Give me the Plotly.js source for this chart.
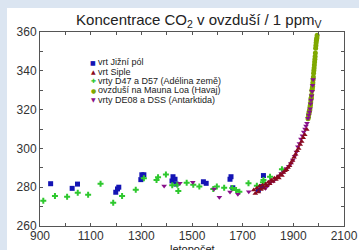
<!DOCTYPE html>
<html><head><meta charset="utf-8">
<script src="https://cdn.plot.ly/plotly-3.0.1.min.js"></script>
<style>
html,body{margin:0;padding:0;background:#dbe5f1;width:359px;height:250px;overflow:hidden}
#chart{position:absolute;left:7px;top:8px;width:352px;height:242px;background:#fff}
</style></head><body>
<div id="chart"></div>
<script>
// vrt Jižní pól (South Pole)
const spYears = [942,1027,1048,1199,1206,1211,1298,1302,1310,1421,1425,1433,1437,1545,1556,1650,1654,1661,1762,1776,1782];
const spPpm   = [281.8,279.4,281.6,277.4,279.1,280.0,283.9,286.4,286.4,283.2,285.4,284.1,281.6,282.8,282.0,284.1,285.4,279.7,278.6,280.3,286.0];
// vrt Siple
const siYears = [1744,1750,1756,1762,1767,1772,1778,1784,1790,1795,1801,1807,1813,1819,1825,1831,1837,1843,1849,1855,1861,1867,1873,1879,1885,1891,1897,1903,1909,1915,1921,1927,1933,1939,1945,1953];
const siPpm   = [278.5,276.8,279.5,277.5,280.5,278.8,281.0,279.5,281.5,280.8,282.5,281.8,283.6,283.0,284.6,284.0,285.3,284.8,286.5,286.0,287.6,288.5,289.0,290.2,291.0,292.5,293.8,295.5,297.0,298.8,300.0,302.0,303.5,305.5,307.0,309.8];
// vrty D47 a D57 (Adélina země)
const adYears = [913,959,1007,1049,1090,1139,1189,1224,1278,1310,1360,1366,1397,1422,1442,1446,1479,1505,1529,1584,1598,1627,1659,1674,1687,1723,1756,1780,1782,1808,1855];
const adPpm   = [273.0,275.5,275.1,277.2,276.1,281.8,272.0,275.5,278.7,284.6,283.7,285.1,286.6,281.0,281.3,278.0,282.3,281.3,280.3,279.1,280.3,279.7,279.6,278.6,277.7,282.0,280.8,282.5,283.7,285.4,289.2];
// ovzduší na Mauna Loa (Havaj)
const mlYears = [1958,1959,1960,1961,1962,1963,1964,1965,1966,1967,1968,1969,1970,1971,1972,1973,1974,1975,1976,1977,1978,1979,1980,1981,1982,1983,1984,1985,1986,1987,1988,1989,1990,1991,1992,1993,1994];
const mlPpm   = [315.3,316.0,316.9,317.6,318.5,319.0,319.6,320.0,321.4,322.2,323.0,324.6,325.7,326.3,327.5,329.7,330.2,331.1,332.1,333.8,335.4,336.8,338.7,340.1,341.4,343.0,344.6,346.0,347.4,349.2,351.6,353.1,354.4,355.6,356.4,357.1,358.3];
// vrty DE08 a DSS (Antarktida)
const ldYears = [1390,1452,1503,1587,1608,1650,1681,1724,1790,1800,1812,1822,1832,1842,1852,1862,1872,1882,1890,1898,1905,1912,1918,1924,1930,1936,1941,1946,1950,1954,1958,1961,1964,1966,1968,1970,1972,1974,1976,1978];
const ldPpm   = [280.6,282.0,282.5,279.1,274.8,277.5,276.4,277.7,279.5,281.0,282.8,283.2,284.6,285.8,287.0,287.8,289.6,290.8,292.2,294.0,296.0,298.2,300.8,302.5,304.8,306.5,308.4,310.0,311.6,313.0,315.5,317.2,318.8,320.5,323.0,325.0,327.2,329.5,332.5,335.5];

// legend entries (in reference order)
const legendNames   = ['vrt Jižní pól','vrt Siple','vrty D47 a D57 (Adélina země)','ovzduší na Mauna Loa (Havaj)','vrty DE08 a DSS (Antarktida)'];
const legendSymbols = ['■','▲','✚','●','▼'];
const legendColors  = ['#1414b4','#8a0a1e','#2ec82e','#7fa800','#88108a'];

const FONT = 'Liberation Sans, Arial, sans-serif';

const traces = [
  {x: spYears, y: spPpm, name: legendNames[0], type:'scatter', mode:'markers', marker:{symbol:'square', size:5, color:legendColors[0]}},
  {x: adYears, y: adPpm, name: legendNames[2], type:'scatter', mode:'markers', marker:{symbol:'cross', size:5, color:legendColors[2]}},
  {x: mlYears, y: mlPpm, name: legendNames[3], type:'scatter', mode:'markers', marker:{symbol:'circle', size:5, color:legendColors[3]}},
  {x: ldYears, y: ldPpm, name: legendNames[4], type:'scatter', mode:'markers', marker:{symbol:'triangle-down', size:5, color:legendColors[4]}},
  {x: siYears, y: siPpm, name: legendNames[1], type:'scatter', mode:'markers', marker:{symbol:'triangle-up', size:5, color:legendColors[1]}}
];

const axisCommon = {
  showgrid:false, zeroline:false, showline:true, linecolor:'#555', linewidth:1,
  mirror:'ticks', ticks:'inside', ticklen:3, tickcolor:'#555', tickwidth:1,
  tickfont:{family:FONT, size:12, color:'#333'}, automargin:false
};

// custom compact legend built from the legend arrays
const annotations = [];
const y0 = 0.844, dy = 0.048;
legendNames.forEach((n,i)=>{
  annotations.push({xref:'paper', yref:'paper', x:0.175, y:y0 - i*dy, xanchor:'center', yanchor:'middle', showarrow:false,
    text:legendSymbols[i], font:{family:'DejaVu Sans', size:6, color:legendColors[i]}, borderpad:0});
  annotations.push({xref:'paper', yref:'paper', x:0.186, y:y0 - i*dy, xanchor:'left', yanchor:'middle', showarrow:false,
    text:n, font:{family:FONT, size:9, color:'#222'}, borderpad:0});
});
// x axis title, sitting low like in the reference
annotations.push({xref:'paper', yref:'paper', x:0.5, y:-0.085, xanchor:'center', yanchor:'top', showarrow:false,
  text:'letopočet', font:{family:FONT, size:11, color:'#222'}, borderpad:0});

const layout = {
  width:352, height:242,
  paper_bgcolor:'#ffffff', plot_bgcolor:'#ffffff',
  margin:{l:33, r:15, t:24, b:24},
  title:{text:'Koncentrace CO<sub>2</sub> v ovzduší / 1 ppm<sub>V</sub>', font:{family:FONT, size:15, color:'#222'}, x:0.545, xanchor:'center', y:0.972, yanchor:'top'},
  xaxis: Object.assign({}, axisCommon, {range:[900,2100], tick0:900, dtick:200, ticklabelstandoff:-1, minor:{dtick:100, ticks:'inside', ticklen:3, tickcolor:'#555'}}),
  yaxis: Object.assign({}, axisCommon, {range:[260,360], tick0:260, dtick:20, minor:{dtick:10, ticks:'inside', ticklen:3, tickcolor:'#555'}}),
  showlegend:false,
  annotations: annotations
};
Plotly.newPlot('chart', traces, layout, {staticPlot:true, displayModeBar:false});
</script>
</body></html>
